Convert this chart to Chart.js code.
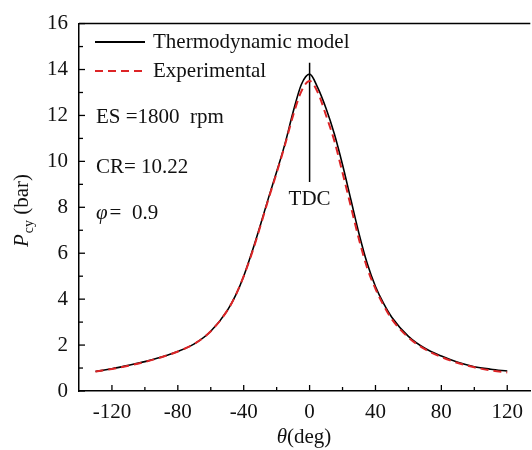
<!DOCTYPE html>
<html>
<head>
<meta charset="utf-8">
<script src="https://cdn.jsdelivr.net/npm/chart.js@4"></script>
<style>
  html, body { margin: 0; padding: 0; background: #fff; overflow: hidden; }
  #wrap { width: 532px; height: 450px; }
</style>
</head>
<body>
<div id="wrap"><canvas id="chart"></canvas></div>
<script>
// crank angle (deg) and cylinder pressure (bar)
const theta  = [-130, -120, -110, -100, -90, -80, -70, -60, -50, -45, -40, -35, -30, -25, -20, -15, -10, -5, 0, 5, 10, 15, 20, 25, 30, 35, 40, 45, 50, 60, 70, 80, 90, 100, 110, 120];
const pModel = [0.85, 0.97, 1.12, 1.28, 1.48, 1.72, 2.05, 2.6, 3.5, 4.15, 5.0, 6.05, 7.2, 8.4, 9.55, 10.75, 12.15, 13.35, 13.8, 13.2, 12.3, 11.2, 9.85, 8.35, 6.85, 5.55, 4.55, 3.8, 3.2, 2.38, 1.86, 1.52, 1.25, 1.06, 0.95, 0.87];
const pExp   = [0.85, 0.96, 1.1, 1.27, 1.47, 1.72, 2.05, 2.6, 3.5, 4.15, 5.0, 6.0, 7.15, 8.35, 9.5, 10.7, 12.0, 13.05, 13.5, 13.0, 12.0, 10.9, 9.5, 8.05, 6.6, 5.35, 4.45, 3.72, 3.12, 2.33, 1.82, 1.48, 1.22, 1.03, 0.9, 0.81];

const xTicks = [-120, -100, -80, -60, -40, -20, 0, 20, 40, 60, 80, 100, 120];
const yTicks = [0, 1, 2, 3, 4, 5, 6, 7, 8, 9, 10, 11, 12, 13, 14, 15, 16];
const tdcLine = [14.3, 9.1];

const seriesNames = ['Thermodynamic model', 'Experimental'];
const notes = ['ES =1800  rpm', 'CR= 10.22', '0.9'];

const serif = '"Liberation Serif", "Times New Roman", serif';
const fontSize = 21;
const redDash = '#dd2426';

const pts = (ys) => theta.map((t, i) => ({ x: t, y: ys[i] }));

// ticks pointing inward, top border, legend, notes and axis titles
const decor = {
  id: 'decor',
  afterDraw(chart) {
    const { ctx, chartArea: a, scales } = chart;
    ctx.save();
    ctx.strokeStyle = '#000';
    ctx.lineWidth = 1.5;
    // top border
    ctx.beginPath();
    ctx.moveTo(a.left, a.top);
    ctx.lineTo(a.right, a.top);
    ctx.stroke();
    // x ticks
    ctx.lineWidth = 1.3;
    scales.x.ticks.forEach(t => {
      const px = scales.x.getPixelForValue(t.value);
      const len = t.value % 40 === 0 ? 6 : 4;
      ctx.beginPath();
      ctx.moveTo(px, a.bottom);
      ctx.lineTo(px, a.bottom - len);
      ctx.stroke();
    });
    scales.y.ticks.forEach(t => {
      const py = scales.y.getPixelForValue(t.value);
      const len = t.value % 2 === 0 ? 6 : 4;
      ctx.beginPath();
      ctx.moveTo(a.left, py);
      ctx.lineTo(a.left + len, py);
      ctx.stroke();
    });

    // legend
    const lx0 = a.left + 16, lx1 = a.left + 66;
    ctx.lineWidth = 1.8;
    ctx.beginPath();
    ctx.moveTo(lx0, 42); ctx.lineTo(lx1, 42);
    ctx.stroke();
    ctx.strokeStyle = redDash;
    ctx.lineWidth = 2;
    ctx.setLineDash([8, 5]);
    ctx.beginPath();
    ctx.moveTo(lx0, 71); ctx.lineTo(lx1, 71);
    ctx.stroke();
    ctx.setLineDash([]);

    ctx.fillStyle = '#111';
    ctx.font = fontSize + 'px ' + serif;
    ctx.textBaseline = 'middle';
    ctx.textAlign = 'left';
    ctx.fillText(seriesNames[0], a.left + 74, 42);
    ctx.fillText(seriesNames[1], a.left + 74, 71);

    // operating conditions
    ctx.fillText(notes[0], a.left + 17, 117);
    ctx.fillText(notes[1], a.left + 17, 167);
    ctx.font = 'italic ' + fontSize + 'px ' + serif;
    ctx.fillText('\u03C6', a.left + 17, 213);
    let w = ctx.measureText('\u03C6').width;
    ctx.font = fontSize + 'px ' + serif;
    ctx.fillText('=  ' + notes[2], a.left + 17 + w + 2, 213);

    // TDC label
    ctx.textAlign = 'center';
    ctx.fillText('TDC', scales.x.getPixelForValue(0), 199);

    // x title: theta (deg)
    ctx.textAlign = 'left';
    ctx.font = 'italic ' + fontSize + 'px ' + serif;
    const thW = ctx.measureText('\u03B8').width;
    ctx.font = fontSize + 'px ' + serif;
    const dW = ctx.measureText('(deg)').width;
    let xs = 304 - (thW + dW) / 2;
    ctx.font = 'italic ' + fontSize + 'px ' + serif;
    ctx.fillText('\u03B8', xs, 437);
    ctx.font = fontSize + 'px ' + serif;
    ctx.fillText('(deg)', xs + thW, 437);

    // y title: P_cy (bar), rotated
    ctx.translate(22, 211);
    ctx.rotate(-Math.PI / 2);
    ctx.font = 'italic ' + fontSize + 'px ' + serif;
    const pW = ctx.measureText('P').width;
    ctx.font = '14px ' + serif;
    const cyW = ctx.measureText('cy').width;
    ctx.font = fontSize + 'px ' + serif;
    const bW = ctx.measureText(' (bar)').width;
    let ys = -(pW + cyW + bW) / 2;
    ctx.font = 'italic ' + fontSize + 'px ' + serif;
    ctx.fillText('P', ys, 0);
    ctx.font = '14px ' + serif;
    ctx.fillText('cy', ys + pW + 1, 7);
    ctx.font = fontSize + 'px ' + serif;
    ctx.fillText(' (bar)', ys + pW + cyW + 1, 0);
    ctx.restore();
  }
};

new Chart(document.getElementById('chart'), {
  type: 'line',
  data: {
    datasets: [
      {
        label: seriesNames[1],
        data: pts(pExp),
        borderColor: redDash,
        borderWidth: 2,
        borderDash: [8, 5],
        pointRadius: 0,
        cubicInterpolationMode: 'monotone',
        order: 0
      },
      {
        label: seriesNames[0],
        data: pts(pModel),
        borderColor: '#000',
        borderWidth: 1.6,
        pointRadius: 0,
        cubicInterpolationMode: 'monotone',
        order: 1
      },
      {
        label: 'TDC',
        data: tdcLine.map(v => ({ x: 0, y: v })),
        borderColor: '#000',
        borderWidth: 1.5,
        pointRadius: 0,
        order: 2
      }
    ]
  },
  options: {
    responsive: true,
    maintainAspectRatio: false,
    animation: false,
    layout: { padding: { top: 22, right: 0, left: 0, bottom: 0 } },
    plugins: { legend: { display: false }, tooltip: { enabled: false } },
    scales: {
      x: {
        type: 'linear',
        min: -140,
        max: 134,
        afterBuildTicks: s => { s.ticks = xTicks.map(v => ({ value: v })); },
        afterFit: s => { s.height = 59; },
        grid: { display: true, drawOnChartArea: false, drawTicks: false },
        border: { display: true, color: '#000', width: 1.5 },
        ticks: {
          padding: 9,
          color: '#111',
          font: { family: serif, size: fontSize },
          maxRotation: 0,
          autoSkip: false,
          callback: v => (v % 40 === 0 ? String(v) : '')
        }
      },
      y: {
        min: 0,
        max: 16,
        afterBuildTicks: s => { s.ticks = yTicks.map(v => ({ value: v })); },
        afterFit: s => { s.width = 79; },
        grid: { display: true, drawOnChartArea: false, drawTicks: false },
        border: { display: true, color: '#000', width: 1.5 },
        ticks: {
          padding: 11,
          color: '#111',
          font: { family: serif, size: fontSize },
          autoSkip: false,
          callback: v => (v % 2 === 0 ? String(v) : '')
        }
      }
    }
  },
  plugins: [decor]
});
</script>
</body>
</html>
